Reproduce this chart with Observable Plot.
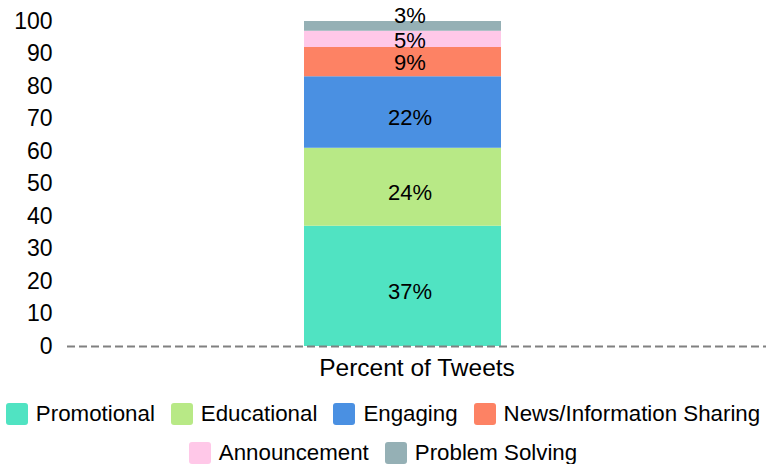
<!DOCTYPE html>
<html>
<head>
<meta charset="utf-8">
<script src="https://cdn.jsdelivr.net/npm/d3@7"></script>
<script src="https://cdn.jsdelivr.net/npm/@observablehq/plot@0.6"></script>
<style>
  html, body { margin: 0; padding: 0; background: #fff; }
  body { font-family: "Liberation Sans", Arial, Helvetica, sans-serif; width: 766px; }
  .legend { padding-top: 13px; }
  .legend-row { display: flex; justify-content: center; align-items: center; height: 22px; white-space: nowrap; }
  .legend-row + .legend-row { margin-top: 17px; }
  .item { display: flex; align-items: center; font-size: 22.3px; color: #000; margin: 0 8px; }
  .sw { width: 22px; height: 22px; border-radius: 3px; margin-right: 8px; }
</style>
</head>
<body>
<div id="chart"></div>
<div id="legend" class="legend"></div>
<script>
const group = "Percent of Tweets";
const categories = ["Promotional", "Educational", "Engaging", "News/Information Sharing", "Announcement", "Problem Solving"];
const values = [37, 24, 22, 9, 5, 3];
const colors = ["#50E3C2", "#B8E986", "#4A90E2", "#FD8264", "#FFC8E8", "#95B0B5"];
const yTicks = [0, 10, 20, 30, 40, 50, 60, 70, 80, 90, 100];
const legendRows = [categories.slice(0, 4), categories.slice(4)];

const tops = Array.from(d3.cumsum(values));
const rows = categories.map((c, i) => ({
  group, category: c, value: values[i],
  mid: tops[i] - values[i] / 2, label: values[i] + "%"
}));

const labelOpts = { x: "group", y: "mid", text: "label", dx: -7, fill: "#000", fontSize: 22, lineHeight: 0.9 };

const chart = Plot.plot({
  width: 766,
  height: 390,
  marginLeft: 67,
  marginRight: 0,
  marginTop: 21,
  marginBottom: 44,
  style: { fontFamily: "Liberation Sans, Arial, sans-serif", fontSize: "22px", color: "#000", background: "#fff" },
  x: { domain: [group], padding: 0, label: null },
  y: { domain: [0, 100], label: null },
  color: { domain: categories, range: colors },
  marks: [
    Plot.barY(rows, { x: "group", y: "value", fill: "category", insetLeft: 237, insetRight: 265 }),
    Plot.ruleY([0], { stroke: "#808080", strokeWidth: 2, strokeDasharray: "8,4" }),
    Plot.text(rows.filter(d => d.value >= 20), { ...labelOpts, dy: 6 }),
    Plot.text(rows.filter(d => d.value >= 5 && d.value < 20), { ...labelOpts, dy: 2 }),
    Plot.text(rows.filter(d => d.value < 5), { ...labelOpts, dy: -9.5 }),
    Plot.axisY({ ticks: yTicks, tickSize: 0, tickPadding: 15, label: null, fontSize: 23 }),
    Plot.axisX({ tickSize: 0, tickPadding: 12, label: null, fontSize: 24.5 })
  ]
});
document.getElementById("chart").appendChild(chart);

const legend = d3.select("#legend");
legendRows.forEach(r => {
  const row = legend.append("div").attr("class", "legend-row");
  r.forEach(c => {
    const it = row.append("div").attr("class", "item");
    it.append("div").attr("class", "sw").style("background", colors[categories.indexOf(c)]);
    it.append("span").text(c);
  });
});
</script>
</body>
</html>
